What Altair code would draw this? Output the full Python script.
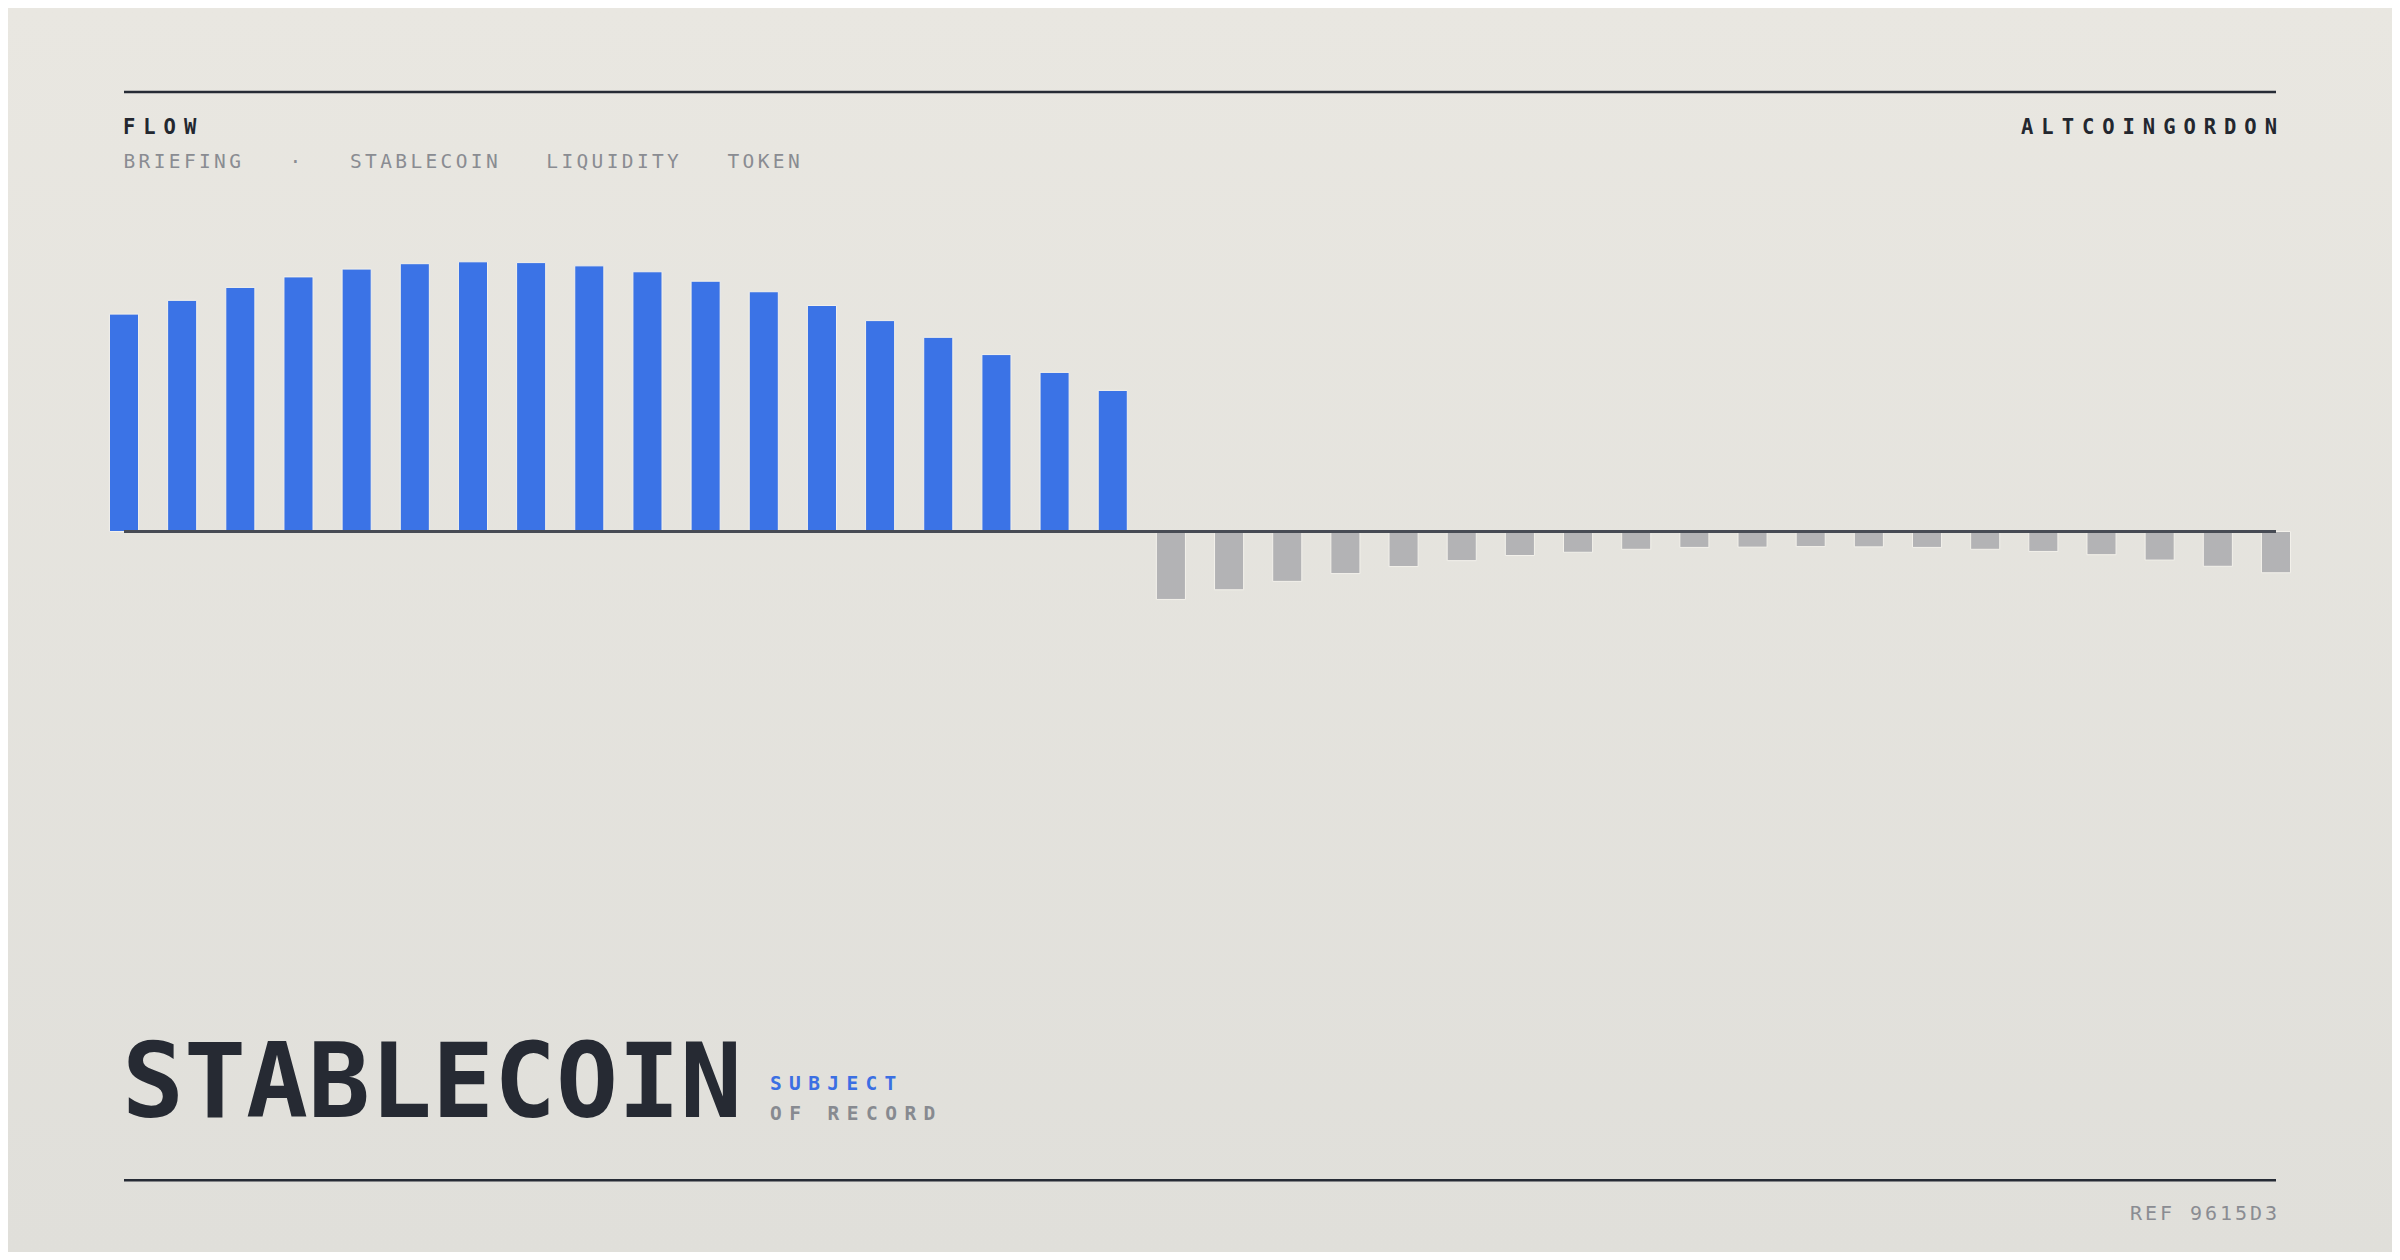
import altair as alt
import pandas as pd

W, H = 2384, 1244
FONT = "DejaVu Sans Mono"

# ---- data ----
flow_in = [80.6, 85.7, 90.5, 94.4, 97.3, 99.3, 100.0, 99.7, 98.5, 96.3,
           92.8, 88.9, 83.8, 78.2, 72.0, 65.6, 59.0, 52.3]
flow_out = [-25.2, -21.6, -18.5, -15.6, -13.0, -10.8, -8.9, -7.7, -6.6, -5.9,
            -5.8, -5.6, -5.7, -5.9, -6.6, -7.4, -8.6, -10.6, -12.9, -15.3]
periods = list(range(1, len(flow_in) + len(flow_out) + 1))

kicker = "FLOW"
brand = "ALTCOINGORDON"
subtitle = "BRIEFING   ·   STABLECOIN   LIQUIDITY   TOKEN"
headline = "STABLECOIN"
tag1 = "SUBJECT"
tag2 = "OF RECORD"
ref = "REF 9615D3"

df = pd.DataFrame({"period": periods, "flow": flow_in + flow_out})
df["sign"] = ["in" if v >= 0 else "out" for v in df["flow"]]

xscale = alt.Scale(domain=[1, len(periods)], range=[116, 2268], nice=False, zero=False)
yscale = alt.Scale(domain=[0, 100], range=[523.5, 253.8], nice=False, zero=False)

bg = alt.Chart(pd.DataFrame({"a": [0]})).mark_rect(
    color=alt.Gradient(
        gradient="linear",
        stops=[alt.GradientStop(color="#E9E7E1", offset=0),
               alt.GradientStop(color="#E0DFDA", offset=1)],
        x1=0, x2=0, y1=0, y2=1,
    )
).encode(x=alt.value(0), x2=alt.value(W), y=alt.value(0), y2=alt.value(H))

bars = alt.Chart(df).transform_calculate(
    x0="datum.period - 0.25", x1="datum.period + 0.25", zero="0"
).mark_bar(stroke="#F3F1EB", strokeWidth=1).encode(
    x=alt.X("x0:Q", scale=xscale, axis=None),
    x2="x1:Q",
    y=alt.Y("flow:Q", scale=yscale, axis=None),
    y2="zero:Q",
    color=alt.Color("sign:N", scale=alt.Scale(domain=["in", "out"],
                                                range=["#3B73E6", "#B3B3B5"]), legend=None),
)

baseline = alt.Chart(df).transform_aggregate(
    first="min(period)", last="max(period)"
).transform_calculate(zero="0").mark_rule(color="#474B54", strokeWidth=3).encode(
    x=alt.X("first:Q", scale=xscale, axis=None),
    x2="last:Q",
    y=alt.Y("zero:Q", scale=yscale, axis=None),
)

def hrule(y):
    return alt.Chart(pd.DataFrame({"a": [0]})).mark_rule(
        color="#262B35", strokeWidth=2.5
    ).encode(x=alt.value(116), x2=alt.value(2268), y=alt.value(y))


def tracked(text, x, y, size, pitch, weight, color, right=False):
    adv = 0.602 * size
    n = len(text)
    start = x - (n - 1) * pitch - adv if right else x
    rows = [{"ch": c, "px": start + i * pitch + adv / 2}
            for i, c in enumerate(text) if c != " "]
    return alt.Chart(pd.DataFrame(rows)).mark_text(
        align="center", baseline="alphabetic", font=FONT, fontSize=size,
        fontWeight=weight, color=color
    ).encode(x=alt.X("px:Q", scale=None, axis=None), y=alt.value(y), text="ch:N")


layers = [
    bg,
    hrule(84),
    hrule(1172.3),
    bars,
    baseline,
    tracked(kicker, 115, 126.3, 20.5, 20.3, "bold", "#23272F"),
    tracked(brand, 2269, 126.3, 20.5, 20.3, "bold", "#23272F", right=True),
    tracked(subtitle, 115.5, 159.7, 19.5, 15.1, "normal", "#8A8C92"),
    tracked(headline, 114, 1108.7, 103, 62.0, "bold", "#262A33"),
    tracked(tag1, 762, 1082, 19.5, 19.1, "bold", "#3B6FE3"),
    tracked(tag2, 762, 1112, 19.5, 19.2, "bold", "#878A90"),
    tracked(ref, 2269, 1212, 20, 15.0, "normal", "#8A8C92", right=True),
]

chart = alt.layer(*layers).resolve_scale(x="independent", y="independent").properties(
    width=W, height=H, padding=0,
    autosize=alt.AutoSizeParams(type="none"),
).configure(background="#E5E3DD").configure_view(stroke=None)

chart.save("out.html", embed_options={"renderer": "svg", "actions": False})
